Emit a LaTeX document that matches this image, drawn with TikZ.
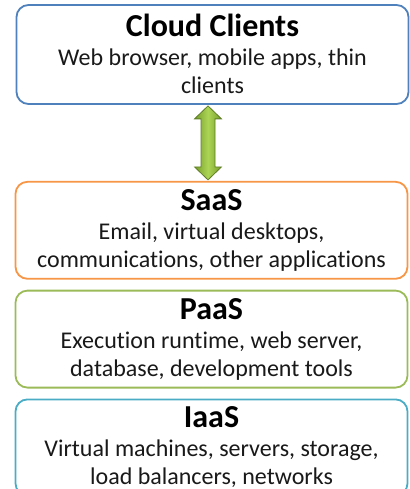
\documentclass[tikz,border=0pt]{standalone}
\usepackage{fontspec}
\setmainfont[Ligatures=NoCommon]{Carlito}
\usetikzlibrary{positioning,calc}
\definecolor{clientblue}{RGB}{79,129,189}
\definecolor{saasorange}{RGB}{247,150,70}
\definecolor{paasgreen}{RGB}{155,187,89}
\definecolor{iaascyan}{RGB}{75,172,198}
\definecolor{arrowdark}{RGB}{96,126,40}
\definecolor{arrowmid}{RGB}{172,212,84}
\definecolor{arrowedge}{RGB}{118,158,44}
\definecolor{textgray}{RGB}{25,25,25}
\newcommand{\layertitle}[1]{{\fontsize{32}{36}\selectfont\bfseries\color{black}\rule{0pt}{24pt}#1}\\[1pt]}
\begin{document}
\begin{tikzpicture}[x=1pt, y=-1pt,
    layer/.style={rectangle, rounded corners=12pt, draw, line width=1.8pt, fill=white,
        align=center, inner sep=0pt, minimum width=392pt, minimum height=97pt,
        text depth=7pt, text=textgray, font=\fontsize{24}{28}\selectfont},
    bigarrow/.style={draw=arrowdark, line width=0.8pt, left color=arrowedge,
        right color=arrowedge, middle color=arrowmid, shading angle=90}]
    \useasboundingbox (0,0) rectangle (409,489) ;

    \node[layer, draw=clientblue, minimum height=99pt, text depth=2pt] (clients) at (212.5,54.5) {\layertitle{Cloud Clients}Web browser, mobile apps, thin\\clients} ;
    \node[layer, draw=saasorange, below=76pt of clients, xshift=-1pt] (saas) {\layertitle{SaaS}Email, virtual desktops,\\communications, other applications} ;
    \node[layer, draw=paasgreen, below=10pt of saas] (paas) {\layertitle{PaaS}Execution runtime, web server,\\database, development tools} ;
    \node[layer, draw=iaascyan, minimum height=96pt, below=10pt of paas] (iaas) {\layertitle{IaaS}Virtual machines, servers, storage,\\load balancers, networks} ;

    \coordinate (tip_top) at ($(clients.south)+(-4.5,1)$) ;
    \coordinate (tip_bottom) at ($(saas.north)+(-3.5,-1)$) ;

    \path[bigarrow] (tip_top) -- ($(tip_top)+(13.5,13)$) -- ($(tip_top)+(7,13)$)
        -- ($(tip_bottom)+(7,-13)$) -- ($(tip_bottom)+(13.5,-13)$) -- (tip_bottom)
        -- ($(tip_bottom)+(-13.5,-13)$) -- ($(tip_bottom)+(-7,-13)$)
        -- ($(tip_top)+(-7,13)$) -- ($(tip_top)+(-13.5,13)$) -- cycle ;

\end{tikzpicture}
\end{document}
